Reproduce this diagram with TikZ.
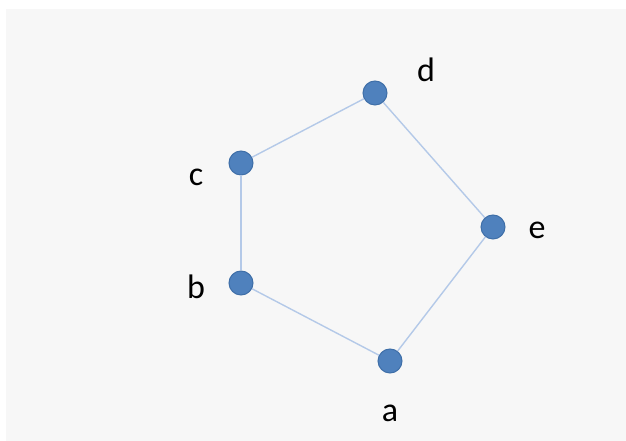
\documentclass[tikz,border=0pt]{standalone}
\usepackage{fontspec}
\setmainfont{Carlito}
\usepackage{tikz}
\definecolor{vtx}{HTML}{4F81BD}
\definecolor{vtxline}{HTML}{3F6FA8}
\definecolor{edgeblue}{HTML}{B4C9E8}
\definecolor{panel}{HTML}{F7F7F7}

\begin{document}
\begin{tikzpicture}[x=1pt, y=1pt,
  vert/.style={circle, fill=vtx, draw=vtxline, line width=1pt, minimum size=24pt, inner sep=0pt},
  lbl/.style={font=\fontsize{34}{36}\selectfont, anchor=base, inner sep=0pt},
  edge/.style={draw=edgeblue, line width=1.4pt}]
% frame
\fill[white] (0,0) rectangle (626,441);
\fill[panel] (6,0) rectangle (626,432);
% vertices
\node[vert] (a) at (390,80) {};
\node[vert] (b) at (241,158) {};
\node[vert] (c) at (241,278) {};
\node[vert] (d) at (375,348) {};
\node[vert] (e) at (493,214) {};
% edges
\draw[edge] (a) -- (b);
\draw[edge] (b) -- (c);
\draw[edge] (c) -- (d);
\draw[edge] (d) -- (e);
\draw[edge] (e) -- (a);
% names
\node[lbl] (la) at (390,19) {a};
\node[lbl] (lb) at (196,142) {b};
\node[lbl] (lc) at (196,255) {c};
\node[lbl] (ld) at (426,359) {d};
\node[lbl] (le) at (537,202) {e};
\end{tikzpicture}
\end{document}
